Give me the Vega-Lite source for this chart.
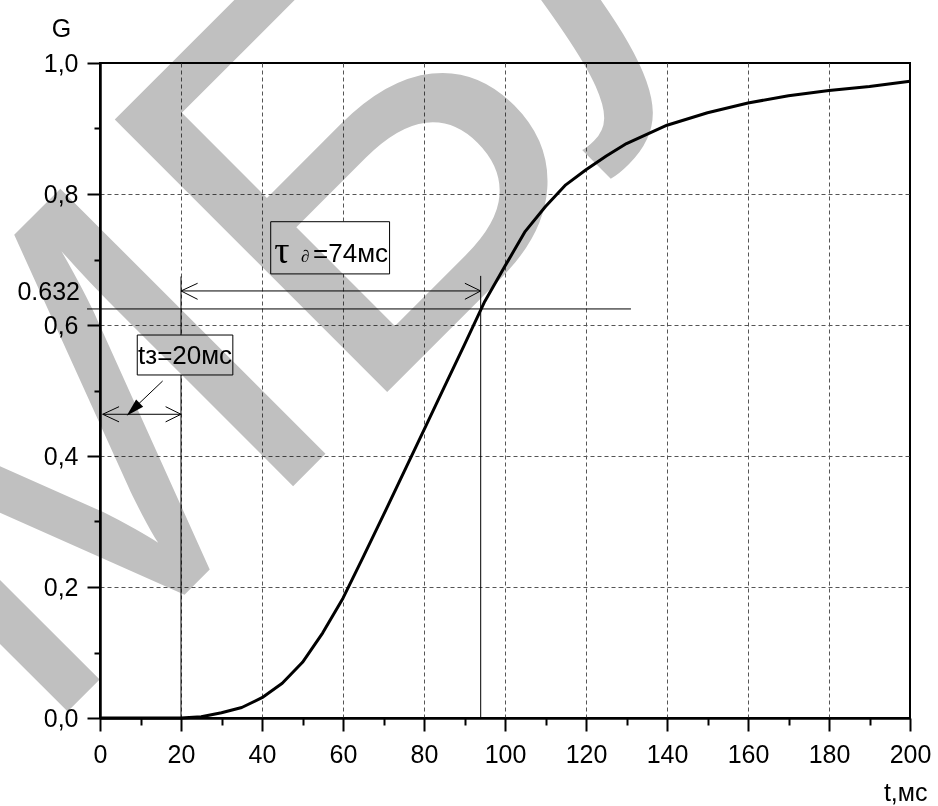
{
  "$schema": "https://vega.github.io/schema/vega-lite/v6.json",
  "width": 810,
  "height": 655,
  "autosize": {"type": "none"},
  "padding": {"left": 100, "top": 63, "right": 28, "bottom": 88},
  "background": "white",
  "config": {
    "view": {"stroke": "black", "strokeWidth": 2},
    "axis": {
      "domainColor": "black",
      "domainWidth": 2.5,
      "tickColor": "black",
      "tickWidth": 2,
      "labelFont": "Liberation Sans",
      "labelFontSize": 25,
      "labelColor": "black",
      "labelOverlap": false,
      "labelFlush": false,
      "titleFont": "Liberation Sans",
      "titleFontSize": 25,
      "titleFontWeight": "normal",
      "titleColor": "black",
      "grid": true,
      "gridColor": "#555555",
      "gridDash": [4, 3],
      "gridWidth": 1
    }
  },
  "datasets": {
    "curve": [
      {"t": 0, "G": 0}, {"t": 20, "G": 0}, {"t": 25, "G": 0.002}, {"t": 30, "G": 0.008},
      {"t": 35, "G": 0.016}, {"t": 40, "G": 0.031}, {"t": 45, "G": 0.053}, {"t": 50, "G": 0.085},
      {"t": 55, "G": 0.13}, {"t": 60, "G": 0.183}, {"t": 65, "G": 0.246}, {"t": 70, "G": 0.31},
      {"t": 75, "G": 0.375}, {"t": 80, "G": 0.44}, {"t": 85, "G": 0.505}, {"t": 90, "G": 0.57},
      {"t": 95, "G": 0.636}, {"t": 100, "G": 0.69}, {"t": 105, "G": 0.743}, {"t": 110, "G": 0.781},
      {"t": 115, "G": 0.814}, {"t": 120, "G": 0.837}, {"t": 125, "G": 0.858}, {"t": 130, "G": 0.877},
      {"t": 140, "G": 0.905}, {"t": 150, "G": 0.924}, {"t": 160, "G": 0.939}, {"t": 170, "G": 0.95},
      {"t": 180, "G": 0.958}, {"t": 190, "G": 0.964}, {"t": 200, "G": 0.972}
    ],
    "segs": [
      {"t": -3.2, "G": 0.6245, "t2": 131.1, "G2": 0.6245},
      {"t": 20, "G": 0, "t2": 20, "G2": 0.674},
      {"t": 94, "G": 0, "t2": 94, "G2": 0.675},
      {"t": 20, "G": 0.652, "t2": 94, "G2": 0.652},
      {"t": 20, "G": 0.652, "t2": 24.1, "G2": 0.6637},
      {"t": 20, "G": 0.652, "t2": 24.1, "G2": 0.6392},
      {"t": 94, "G": 0.652, "t2": 90.1, "G2": 0.6637},
      {"t": 94, "G": 0.652, "t2": 90.1, "G2": 0.6392},
      {"t": 0.66, "G": 0.4637, "t2": 20, "G2": 0.4637},
      {"t": 0.66, "G": 0.4637, "t2": 4.7, "G2": 0.4753},
      {"t": 0.66, "G": 0.4637, "t2": 4.7, "G2": 0.4521},
      {"t": 20, "G": 0.4637, "t2": 16.2, "G2": 0.4753},
      {"t": 20, "G": 0.4637, "t2": 16.2, "G2": 0.4521},
      {"t": 15.47, "G": 0.5145, "t2": 8.5, "G2": 0.4735}
    ],
    "boxes": [
      {"t": 9.2, "G": 0.5847, "t2": 32.8, "G2": 0.5237},
      {"t": 42.15, "G": 0.7577, "t2": 71.5, "G2": 0.678}
    ],
    "texts": [
      {"id": "lvl", "label": "0.632", "t": -4.94, "G": 0.638},
      {"id": "tz", "label": "tз=20мс", "t": 21.0, "G": 0.5397},
      {"id": "tau", "label": "τ", "t": 43.0, "G": 0.6947},
      {"id": "d", "label": "∂", "t": 49.6, "G": 0.696},
      {"id": "val", "label": "=74мс", "t": 52.6, "G": 0.696}
    ],
    "tips": [
      {"t": 6.59, "G": 0.4615}
    ],
    "mark": [
      {"label": "М", "t": -15.79, "G": -0.0385},
      {"label": "Б", "t": 62.89, "G": 0.4481},
      {"label": "Л", "t": 125.0, "G": 0.82}
    ]
  },
  "encoding": {
    "x": {
      "field": "t",
      "type": "quantitative",
      "scale": {"domain": [0, 200], "nice": false, "zero": false},
      "axis": {
        "values": [0, 10, 20, 30, 40, 50, 60, 70, 80, 90, 100, 110, 120, 130, 140, 150, 160, 170, 180, 190, 200],
        "format": "d",
        "labelExpr": "datum.value % 20 == 0 ? datum.label : ''",
        "tickSize": {"condition": {"test": "datum.value % 20 == 0", "value": 13}, "value": 7},
        "gridOpacity": {"condition": {"test": "datum.value % 20 == 0 && datum.value > 0 && datum.value < 200", "value": 1}, "value": 0},
        "labelPadding": 11,
        "title": "t,мс",
        "titleX": 827,
        "titleY": 82,
        "titleAlign": "right",
        "titleBaseline": "alphabetic"
      }
    },
    "y": {
      "field": "G",
      "type": "quantitative",
      "scale": {"domain": [0, 1], "nice": false, "zero": false},
      "axis": {
        "values": [0, 0.1, 0.2, 0.3, 0.4, 0.5, 0.6, 0.7, 0.8, 0.9, 1],
        "labelExpr": "round(datum.value * 10) % 2 == 0 ? replace(format(datum.value, '.1f'), '.', ',') : ''",
        "tickSize": {"condition": {"test": "round(datum.value * 10) % 2 == 0", "value": 13}, "value": 6},
        "gridOpacity": {"condition": {"test": "round(datum.value * 10) % 2 == 0 && datum.value > 0.05 && datum.value < 0.95", "value": 1}, "value": 0},
        "labelPadding": 9,
        "title": "G",
        "titleAngle": 0,
        "titleX": -39,
        "titleY": -27,
        "titleAlign": "center",
        "titleBaseline": "alphabetic"
      }
    }
  },
  "layer": [
    {
      "data": {"name": "segs"},
      "mark": {"type": "rule", "color": "black", "strokeWidth": 1, "clip": false},
      "encoding": {"x2": {"field": "t2"}, "y2": {"field": "G2"}}
    },
    {
      "data": {"name": "boxes"},
      "mark": {"type": "rect", "fill": "white", "stroke": "black", "strokeWidth": 1},
      "encoding": {"x2": {"field": "t2"}, "y2": {"field": "G2"}}
    },
    {
      "data": {"name": "texts"},
      "transform": [{"filter": "datum.id == 'lvl'"}],
      "mark": {"type": "text", "align": "right", "baseline": "alphabetic", "font": "Liberation Sans", "fontSize": 25, "color": "black", "clip": false},
      "encoding": {"text": {"field": "label"}}
    },
    {
      "data": {"name": "texts"},
      "transform": [{"filter": "datum.id == 'tz'"}],
      "mark": {"type": "text", "align": "center", "baseline": "alphabetic", "font": "Liberation Sans", "fontSize": 26, "color": "black"},
      "encoding": {"text": {"field": "label"}}
    },
    {
      "data": {"name": "texts"},
      "transform": [{"filter": "datum.id == 'val'"}],
      "mark": {"type": "text", "align": "left", "baseline": "alphabetic", "font": "Liberation Sans", "fontSize": 26, "color": "black"},
      "encoding": {"text": {"field": "label"}}
    },
    {
      "data": {"name": "texts"},
      "transform": [{"filter": "datum.id == 'tau'"}],
      "mark": {"type": "text", "align": "left", "baseline": "alphabetic", "font": "Liberation Serif", "fontSize": 38, "color": "black"},
      "encoding": {"text": {"field": "label"}}
    },
    {
      "data": {"name": "texts"},
      "transform": [{"filter": "datum.id == 'd'"}],
      "mark": {"type": "text", "align": "left", "baseline": "alphabetic", "font": "Liberation Serif", "fontStyle": "italic", "fontSize": 17, "color": "black"},
      "encoding": {"text": {"field": "label"}}
    },
    {
      "data": {"name": "curve"},
      "mark": {"type": "line", "color": "black", "strokeWidth": 3, "strokeJoin": "round"}
    },
    {
      "data": {"name": "tips"},
      "mark": {"type": "point", "shape": "M0,0L-0.28,1L0.28,1Z", "filled": true, "color": "black", "opacity": 1, "size": 1296, "angle": 226, "strokeWidth": 0}
    },
    {
      "data": {"name": "mark"},
      "transform": [{"filter": "datum.label != 'Б'"}],
      "mark": {"type": "text", "align": "left", "baseline": "alphabetic", "font": "Liberation Sans", "fontSize": 545, "angle": -45, "color": "#c0c0c0", "blend": "multiply", "clip": false},
      "encoding": {"text": {"field": "label"}}
    },
    {
      "data": {"name": "mark"},
      "transform": [{"filter": "datum.label == 'Б'"}],
      "mark": {"type": "text", "align": "left", "baseline": "alphabetic", "font": "Liberation Sans", "fontSize": 560, "angle": -45, "color": "#c0c0c0", "blend": "multiply", "clip": false},
      "encoding": {"text": {"field": "label"}}
    }
  ]
}
